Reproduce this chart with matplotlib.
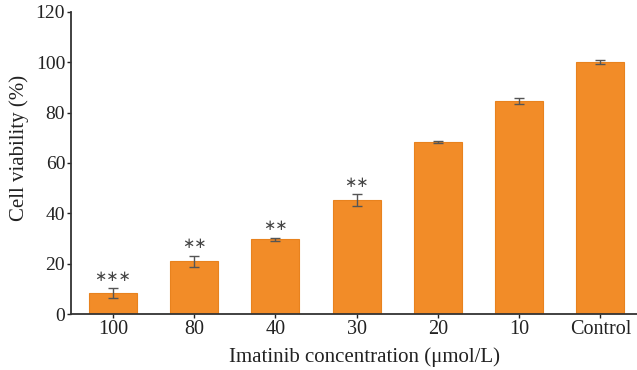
import matplotlib
matplotlib.use("Agg")
import matplotlib.pyplot as plt

categories = ["100", "80", "40", "30", "20", "10", "Control"]
viability = [8.3, 21.0, 29.8, 45.3, 68.3, 84.6, 100.0]
errors = [2.0, 2.2, 0.6, 2.3, 0.5, 1.2, 0.8]
stars = ["∗∗∗", "∗∗", "∗∗", "∗∗", "", "", ""]
yticks = [0, 20, 40, 60, 80, 100, 120]

plt.rcParams['font.family'] = ['Liberation Serif', 'DejaVu Serif']

fig = plt.figure(figsize=(6.37, 3.70), dpi=100)
ax = fig.add_axes([0.111, 0.151, 0.889, 0.817])
x = range(len(categories))
ax.bar(x, viability, width=0.59, color="#F28C28", edgecolor="#E8821E", linewidth=0.8,
       yerr=errors, ecolor="#555555", capsize=3.5, error_kw=dict(elinewidth=1.0, capthick=1.0), zorder=2)
for xi, v, e, s in zip(x, viability, errors, stars):
    if s:
        ax.text(xi, v + e + 1.8, s, ha="center", va="bottom", fontsize=10.5, color="#444444",
                family=['DejaVu Sans'])
ax.set_xlim(-0.52, 6.45)
ax.set_ylim(0, 120)
ax.set_yticks(yticks)
ax.set_xticks(list(x))
ax.set_xticklabels(categories)
ax.spines['top'].set_visible(False)
ax.spines['right'].set_visible(False)
for sp in ['left', 'bottom']:
    ax.spines[sp].set_color("#333333")
    ax.spines[sp].set_linewidth(1.3)
ax.tick_params(axis='both', labelsize=14, colors="#222222", length=3, width=1.0, pad=1)
ax.tick_params(axis='x', labelsize=14.5)
ax.set_ylabel("Cell viability (%)", fontsize=15, color="#222222")
ax.yaxis.set_label_coords(-0.073, 0.55)
ax.set_xlabel("Imatinib concentration (μmol/L)", fontsize=15, color="#222222")
ax.xaxis.set_label_coords(0.519, -0.11)
fig.savefig("out.png", dpi=100)
